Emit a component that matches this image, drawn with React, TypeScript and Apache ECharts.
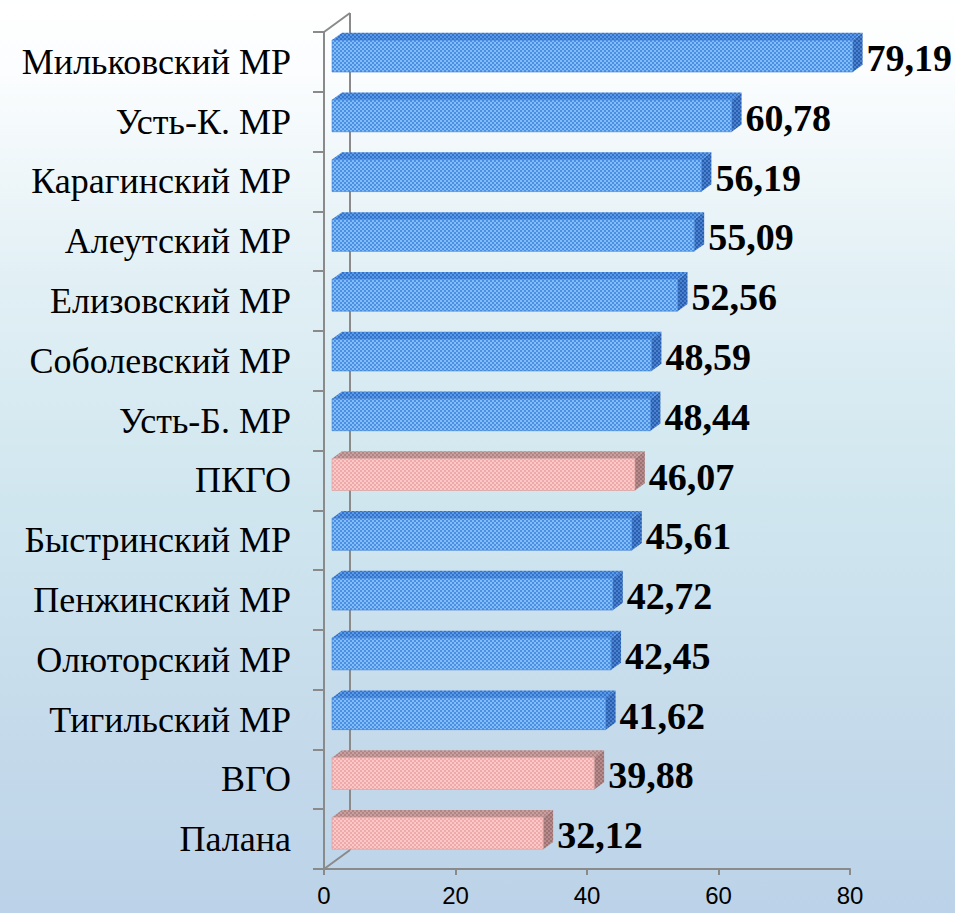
import React, { useEffect, useRef } from "react";
import * as echarts from "echarts";

const categories = [
  "Мильковский МР",
  "Усть-К. МР",
  "Карагинский МР",
  "Алеутский МР",
  "Елизовский МР",
  "Соболевский МР",
  "Усть-Б. МР",
  "ПКГО",
  "Быстринский МР",
  "Пенжинский МР",
  "Олюторский МР",
  "Тигильский МР",
  "ВГО",
  "Палана",
];
const values = [79.19, 60.78, 56.19, 55.09, 52.56, 48.59, 48.44, 46.07, 45.61, 42.72, 42.45, 41.62, 39.88, 32.12];
const highlighted = ["ПКГО", "ВГО", "Палана"];
const xTicks = { min: 0, max: 80, interval: 20 };

const SERIF = "Liberation Serif";
const SANS = "Liberation Sans";
const DX = 26;
const DY = 19;
const GRAY = "#8a8a8a";

function makePattern(c1: string, c2: string) {
  const cv = document.createElement("canvas");
  cv.width = 4;
  cv.height = 4;
  const ctx = cv.getContext("2d")!;
  ctx.fillStyle = c1;
  ctx.fillRect(0, 0, 4, 4);
  ctx.fillStyle = c2;
  ctx.fillRect(0, 0, 2, 2);
  ctx.fillRect(2, 2, 2, 2);
  return { image: cv, repeat: "repeat" } as any;
}

export default function App() {
  const ref = useRef<HTMLDivElement>(null);
  useEffect(() => {
    document.body.style.margin = "0";
    const chart = echarts.init(ref.current!, undefined, { renderer: "svg" });

    const blue = {
      front: makePattern("#4a8fe3", "#82bdf6"),
      top: makePattern("#3373cb", "#5b9ae6"),
      side: makePattern("#2a5eae", "#4a82d0"),
      edge: "#3a7bd0",
    };
    const pink = {
      front: makePattern("#eeaaaa", "#fbc8c8"),
      top: makePattern("#b28585", "#c9a0a0"),
      side: makePattern("#9c7272", "#b88c8c"),
      edge: "#d99a9a",
    };

    const data = values.map((v, i) => [i, v, highlighted.includes(categories[i]) ? 1 : 0]);

    const renderBar = (params: any, api: any) => {
      const idx = api.value(0);
      const val = api.value(1);
      const hl = api.value(2) === 1;
      const pal = hl ? pink : blue;
      const start = api.coord([0, idx]);
      const end = api.coord([val, idx]);
      const band = api.size([0, 1])[1];
      const h = band * 0.535;
      const fx = 0.31 * DX;
      const fy = 0.31 * DY;
      const dx = 0.38 * DX;
      const dy = 0.38 * DY;
      const x0 = start[0] + fx;
      const x1 = end[0] + fx;
      const cy = start[1] - fy;
      const yT = cy - h / 2;
      const yB = cy + h / 2;
      const label = val.toFixed(2).replace(".", ",");
      return {
        type: "group",
        children: [
          {
            type: "polygon",
            shape: { points: [[x0, yT], [x0 + dx, yT - dy], [x1 + dx, yT - dy], [x1, yT]] },
            style: { fill: pal.top },
          },
          {
            type: "polygon",
            shape: { points: [[x1, yT], [x1 + dx, yT - dy], [x1 + dx, yB - dy], [x1, yB]] },
            style: { fill: pal.side },
          },
          {
            type: "rect",
            shape: { x: x0, y: yT, width: x1 - x0, height: h },
            style: { fill: pal.front, stroke: pal.edge, lineWidth: 0.6 },
          },
          {
            type: "text",
            style: {
              text: label,
              x: x1 + dx + 4,
              y: cy + 2,
              align: "left",
              verticalAlign: "middle",
              fontFamily: SERIF,
              fontWeight: "bold",
              fontSize: 38,
              fill: "#000",
            },
          },
        ],
      };
    };

    const renderWall = (params: any, api: any) => {
      const cs = params.coordSys;
      const x = cs.x;
      const yTop = cs.y;
      const yBot = cs.y + cs.height;
      const ls = { stroke: GRAY, lineWidth: 2 };
      return {
        type: "group",
        children: [
          { type: "line", shape: { x1: x + DX, y1: yTop - DY, x2: x + DX, y2: yBot - DY }, style: ls },
          { type: "line", shape: { x1: x, y1: yTop, x2: x + DX, y2: yTop - DY }, style: ls },
          { type: "line", shape: { x1: x, y1: yBot, x2: x + DX, y2: yBot - DY }, style: ls },
        ],
      };
    };

    chart.setOption({
      animation: false,
      textStyle: { fontFamily: SERIF },
      backgroundColor: {
        type: "linear",
        x: 0,
        y: 0,
        x2: 0,
        y2: 1,
        colorStops: [
          { offset: 0, color: "#ffffff" },
          { offset: 0.08, color: "#fbfdfe" },
          { offset: 0.3, color: "#e2f0f5" },
          { offset: 0.55, color: "#d0e6ef" },
          { offset: 1, color: "#bcd2e8" },
        ],
      },
      grid: { left: 324, right: 105, top: 32, bottom: 44, containLabel: false },
      xAxis: {
        type: "value",
        min: xTicks.min,
        max: xTicks.max,
        interval: xTicks.interval,
        splitLine: { show: false },
        axisLine: { show: true, lineStyle: { color: GRAY, width: 2 } },
        axisTick: { show: true, length: 6, lineStyle: { color: GRAY, width: 2 } },
        axisLabel: { color: "#000", fontFamily: SANS, fontSize: 24, margin: 14 },
      },
      yAxis: {
        type: "category",
        data: categories,
        inverse: true,
        axisLine: { show: true, lineStyle: { color: GRAY, width: 2 } },
        axisTick: { show: true, length: 11, lineStyle: { color: GRAY, width: 2 } },
        axisLabel: { color: "#000", fontFamily: SERIF, fontSize: 36, margin: 33 },
        splitLine: { show: false },
      },
      series: [
        {
          type: "custom",
          renderItem: renderWall,
          data: [[0, 0]],
          encode: { x: 1, y: 0 },
          z: 1,
          silent: true,
        },
        {
          type: "custom",
          renderItem: renderBar,
          data,
          encode: { x: 1, y: 0 },
          z: 2,
        },
      ],
    });
    return () => chart.dispose();
  }, []);
  return <div ref={ref} style={{ width: 955, height: 913 }} />;
}
